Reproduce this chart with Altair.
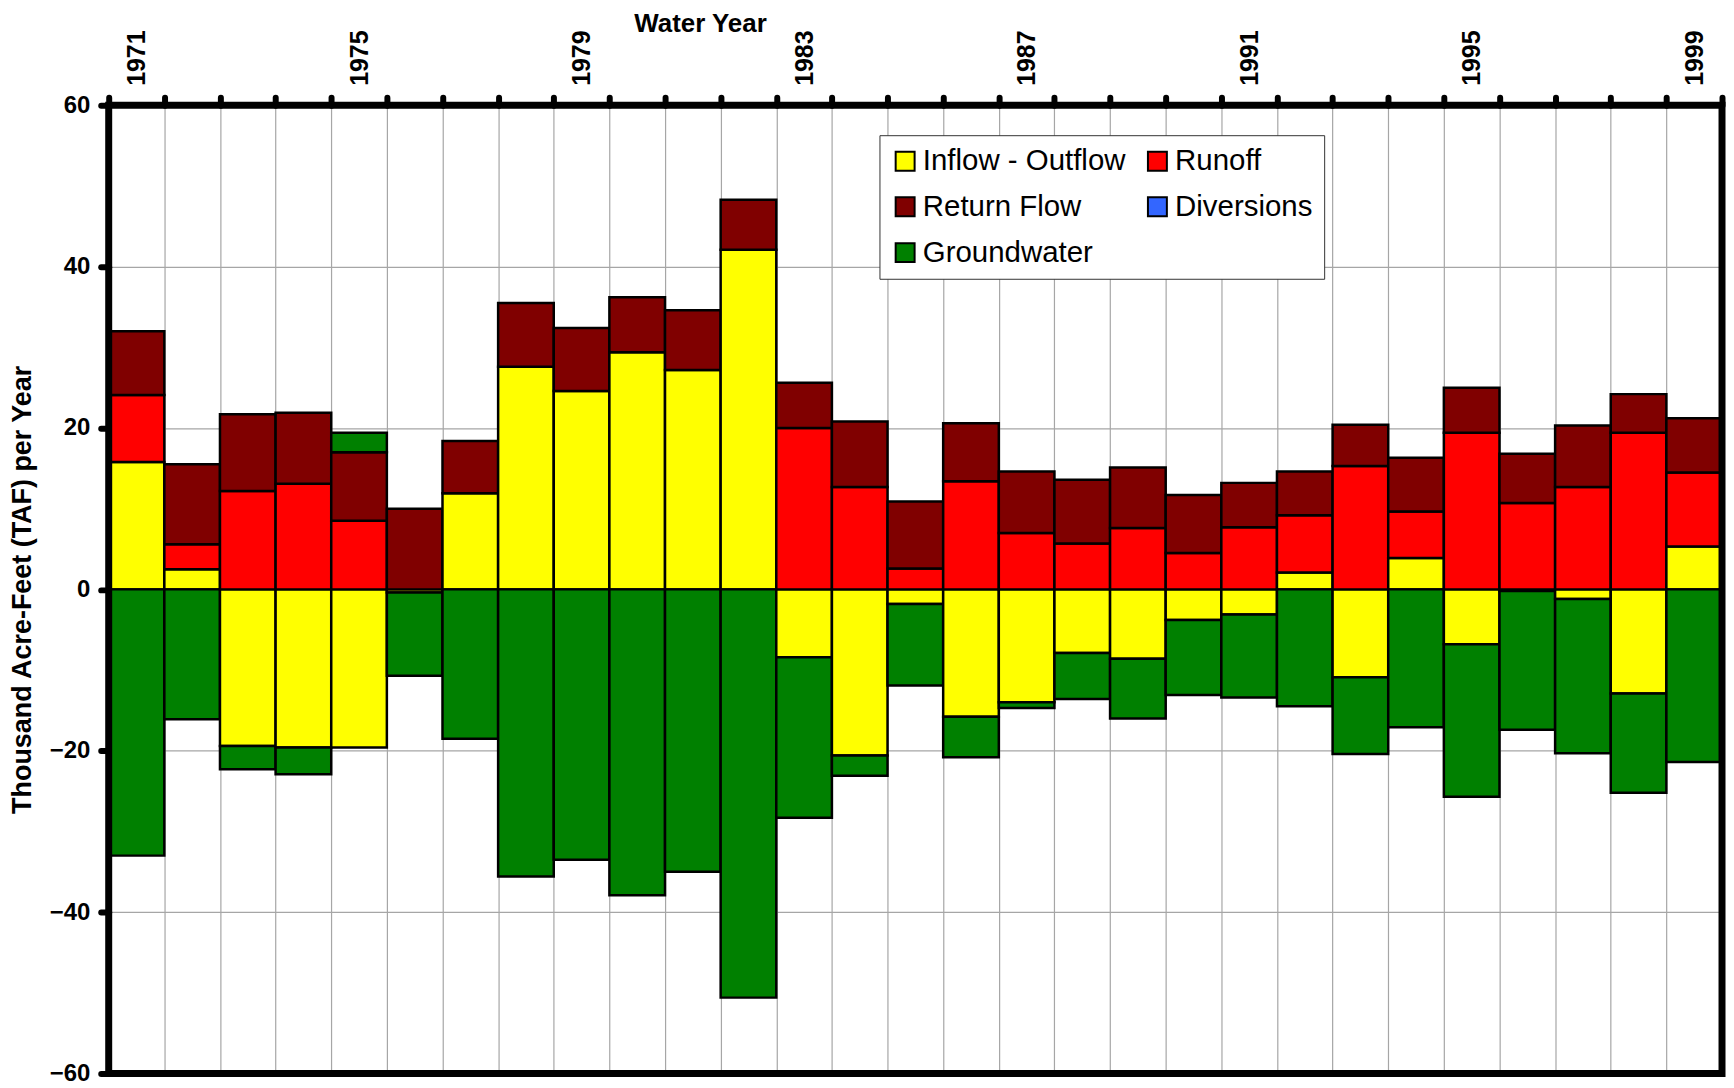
import altair as alt
import pandas as pd

# ---- data (thousand acre-feet per year) ----
years = [1971, 1972, 1973, 1974, 1975, 1976, 1977, 1978, 1979, 1980,
         1981, 1982, 1983, 1984, 1985, 1986, 1987, 1988, 1989, 1990,
         1991, 1992, 1993, 1994, 1995, 1996, 1997, 1998, 1999]
inflow_outflow = [15.8, 2.5, -19.4, -19.6, -19.6, -0.4, 11.9, 27.6, 24.6, 29.4,
                  27.2, 42.1, -8.4, -20.6, -1.8, -15.8, -14.0, -7.9, -8.6, -3.8,
                  -3.1, 2.1, -10.9, 3.9, -6.8, -0.2, -1.2, -12.9, 5.3]
runoff = [8.3, 3.1, 12.2, 13.1, 8.5, 0, 0, 0, 0, 0,
          0, 0, 20.0, 12.7, 2.6, 13.4, 7.0, 5.7, 7.6, 4.5,
          7.7, 7.1, 15.3, 5.75, 19.4, 10.7, 12.7, 19.4, 9.2]
return_flow = [7.9, 9.9, 9.5, 8.8, 8.5, 10.0, 6.5, 7.9, 7.8, 6.8,
               7.4, 6.2, 5.6, 8.1, 8.3, 7.2, 7.6, 7.9, 7.5, 7.2,
               5.5, 5.4, 5.1, 6.65, 5.6, 6.1, 7.6, 4.8, 6.7]
diversions = [0, 0, 0, 0, 0, 0, 0, 0, 0, 0,
              0, 0, 0, 0, 0, 0, 0, 0, 0, 0,
              0, 0, 0, 0, 0, 0, 0, 0, 0]
groundwater = [-33.0, -16.1, -2.9, -3.3, 2.4, -10.3, -18.5, -35.6, -33.5, -37.9,
               -35.0, -50.6, -19.9, -2.5, -10.1, -5.0, -0.7, -5.7, -7.4, -9.3,
               -10.3, -14.5, -9.5, -17.1, -18.9, -17.2, -19.1, -12.3, -21.4]

series_names = ["Inflow - Outflow", "Runoff", "Return Flow", "Diversions", "Groundwater"]
series_values = [inflow_outflow, runoff, return_flow, diversions, groundwater]
series_colors = ["#FFFF00", "#FF0000", "#800000", "#3366FF", "#008000"]

# ---- diverging stack (positives up from zero, negatives down from zero) ----
rows = []
for i, yr in enumerate(years):
    pos, neg = 0.0, 0.0
    for k, name in enumerate(series_names):
        v = series_values[k][i]
        if v == 0:
            continue
        if v > 0:
            lo, hi = pos, pos + v
            pos = hi
        else:
            lo, hi = neg, neg + v
            neg = hi
        rows.append({"year": yr, "series": name, "value": v,
                     "x0": yr - 0.5, "x1": yr + 0.5, "y0": lo, "y1": hi})
df = pd.DataFrame(rows)

frame_df = pd.DataFrame({"xa": [years[0] - 0.5], "xb": [years[-1] + 0.5],
                         "ya": [60], "yb": [-60]})

FONT = "Liberation Sans"
W, H = 1618, 971
band = W / len(years)

x_scale = alt.Scale(domain=[years[0] - 0.5, years[-1] + 0.5], nice=False, zero=False)
y_scale = alt.Scale(domain=[-60, 60], nice=False)

x_axis = alt.Axis(
    orient="top", values=[y - 0.5 for y in years] + [years[-1] + 0.5],
    grid=True, gridColor="#a6a6a6", gridWidth=1.2, domain=False,
    ticks=True, tickSize=8, tickWidth=6, tickCap="round", tickColor="black",
    labelExpr="((datum.value + 0.5 - 1971) % 4 == 0) ? '' + (datum.value + 0.5) : ''",
    labelAngle=-90, labelAlign="left", labelBaseline="middle",
    labelOffset=band / 2, labelPadding=12, labelFont=FONT, labelFontSize=25,
    labelFontWeight="bold", labelColor="black",
    labelOverlap=False, labelFlush=False, labelBound=False,
    title="Water Year", titleX=593, titleY=-74, titleAngle=0,
    titleAlign="center", titleBaseline="alphabetic",
    titleFont=FONT, titleFontSize=26, titleFontWeight="bold", titleColor="black",
)
y_axis = alt.Axis(
    orient="left", values=[-60, -40, -20, 0, 20, 40, 60],
    grid=True, gridColor="#a6a6a6", gridWidth=1.2, domain=False,
    ticks=True, tickSize=8, tickWidth=6, tickCap="round", tickColor="black",
    labelFont=FONT, labelFontSize=24, labelFontWeight="bold", labelColor="black",
    labelPadding=11, format="d",
    title="Thousand Acre-Feet (TAF) per Year", titleX=-78, titleY=H / 2,
    titleAngle=270, titleAlign="center", titleBaseline="alphabetic",
    titleFont=FONT, titleFontSize=27, titleFontWeight="bold", titleColor="black",
)

legend = alt.Legend(
    orient="none", legendX=773, legendY=30, columns=2, gridAlign="all",
    direction="horizontal",
    padding=11, fillColor="white", strokeColor="#333333",
    labelFont=FONT, labelFontSize=29.5, labelColor="black", labelLimit=400,
    labelOffset=3, symbolType="square", symbolSize=361,
    symbolStrokeColor="black", symbolStrokeWidth=2, symbolOpacity=1,
    rowPadding=15, columnPadding=17,
)

bars = alt.Chart(df).mark_rect(stroke="black", strokeWidth=2.5).encode(
    x=alt.X("x0:Q", scale=x_scale, axis=x_axis),
    x2="x1:Q",
    y=alt.Y("y0:Q", scale=y_scale, axis=y_axis),
    y2="y1:Q",
    color=alt.Color("series:N", title=None,
                    scale=alt.Scale(domain=series_names, range=series_colors),
                    legend=legend),
)

frame = alt.Chart(frame_df).mark_rect(filled=False, stroke="black", strokeWidth=7).encode(
    x=alt.X("xa:Q", scale=x_scale, axis=x_axis),
    x2="xb:Q",
    y=alt.Y("ya:Q", scale=y_scale, axis=y_axis),
    y2="yb:Q",
)

chart = alt.layer(bars, frame).properties(
    width=W, height=H,
    autosize=alt.AutoSizeParams(type="none"),
    padding={"left": 101, "top": 96, "right": 4, "bottom": 12},
    background="white",
).configure_view(strokeWidth=0)

chart.save("out.html", embed_options={"renderer": "svg", "actions": False})
